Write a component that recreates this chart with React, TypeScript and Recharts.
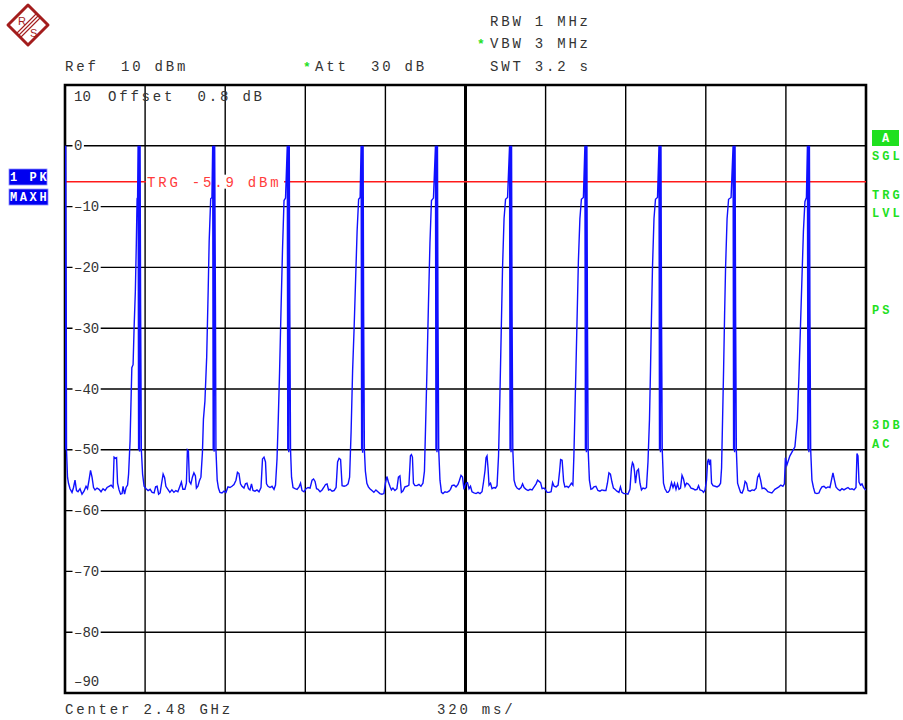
import React from 'react';
import { LineChart, Line, XAxis, YAxis, CartesianGrid, ReferenceLine, ReferenceArea } from 'recharts';

// Sweep time axis (ms) of the trace points, 0 .. 3200 ms (320 ms/div)
const sweepTimeMs = [
  0, 2, 3, 5, 6, 10, 14, 20, 28, 34,
  40, 46, 52, 60, 68, 76, 84, 90, 96, 102,
  108, 114, 120, 128, 136, 144, 152, 160, 168, 176,
  184, 192, 196, 202, 206, 210, 216, 222, 228, 232,
  238, 244, 250, 254, 260, 267, 272, 276, 281, 285,
  288, 290, 292, 294, 296, 298, 300, 302, 305, 310,
  316, 324, 332, 340, 348, 356, 362, 368, 374, 380,
  386, 392, 398, 403, 411, 419, 427, 435, 443, 451,
  459, 465, 471, 479, 485, 489, 493, 497, 503, 509,
  515, 521, 525, 531, 537, 543, 549, 553, 559, 566,
  572, 576, 582, 587, 590, 592, 594, 596, 598, 601,
  603, 608, 613, 619, 627, 635, 643, 651, 659, 667,
  675, 683, 689, 695, 701, 707, 715, 721, 727, 733,
  739, 745, 751, 759, 767, 775, 783, 789, 795, 801,
  805, 811, 819, 827, 835, 841, 847, 852, 857, 863,
  869, 875, 881, 888, 890, 892, 894, 896, 898, 901,
  905, 911, 919, 927, 935, 941, 947, 955, 963, 971,
  979, 987, 993, 999, 1005, 1011, 1019, 1027, 1035, 1041,
  1047, 1053, 1059, 1067, 1075, 1083, 1089, 1095, 1101, 1107,
  1115, 1123, 1131, 1137, 1143, 1149, 1155, 1161, 1167, 1173,
  1179, 1183, 1185, 1187, 1189, 1191, 1193, 1196, 1200, 1206,
  1212, 1218, 1226, 1234, 1242, 1250, 1258, 1266, 1274, 1280,
  1286, 1292, 1298, 1304, 1310, 1318, 1326, 1332, 1338, 1344,
  1350, 1358, 1366, 1374, 1380, 1384, 1388, 1392, 1398, 1406,
  1414, 1422, 1430, 1436, 1440, 1446, 1452, 1458, 1464, 1472,
  1480, 1482, 1484, 1486, 1488, 1490, 1493, 1498, 1504, 1510,
  1518, 1526, 1534, 1540, 1546, 1554, 1562, 1570, 1576, 1582,
  1588, 1594, 1602, 1608, 1614, 1620, 1626, 1634, 1642, 1650,
  1658, 1666, 1672, 1678, 1682, 1686, 1690, 1694, 1700, 1706,
  1714, 1720, 1726, 1732, 1736, 1740, 1744, 1748, 1754, 1760,
  1768, 1776, 1778, 1780, 1782, 1784, 1786, 1789, 1794, 1800,
  1806, 1814, 1822, 1828, 1834, 1842, 1850, 1858, 1866, 1874,
  1882, 1888, 1894, 1900, 1906, 1914, 1920, 1926, 1934, 1942,
  1948, 1954, 1962, 1970, 1976, 1980, 1986, 1992, 1997, 2005,
  2011, 2017, 2023, 2029, 2033, 2037, 2041, 2046, 2051, 2057,
  2063, 2071, 2077, 2079, 2081, 2083, 2085, 2087, 2090, 2095,
  2101, 2107, 2113, 2121, 2129, 2137, 2145, 2153, 2161, 2167,
  2173, 2179, 2185, 2191, 2197, 2205, 2213, 2219, 2225, 2233,
  2241, 2249, 2257, 2263, 2267, 2271, 2275, 2279, 2285, 2291,
  2297, 2303, 2309, 2317, 2323, 2329, 2335, 2339, 2343, 2347,
  2353, 2359, 2367, 2373, 2375, 2377, 2379, 2381, 2383, 2386,
  2391, 2397, 2405, 2409, 2415, 2423, 2429, 2435, 2441, 2447,
  2453, 2459, 2465, 2471, 2477, 2483, 2489, 2495, 2501, 2509,
  2517, 2525, 2531, 2537, 2545, 2551, 2557, 2563, 2567, 2571,
  2575, 2579, 2583, 2589, 2597, 2605, 2613, 2619, 2623, 2627,
  2631, 2635, 2639, 2645, 2651, 2661, 2669, 2671, 2673, 2675,
  2677, 2679, 2682, 2687, 2693, 2699, 2705, 2711, 2717, 2723,
  2729, 2737, 2745, 2753, 2761, 2767, 2773, 2779, 2785, 2793,
  2800, 2808, 2816, 2824, 2830, 2836, 2844, 2852, 2860, 2868,
  2874, 2878, 2884, 2896, 2916, 2926, 2932, 2938, 2944, 2950,
  2956, 2962, 2966, 2968, 2970, 2972, 2974, 2976, 2979, 2984,
  2990, 2996, 3004, 3012, 3018, 3024, 3032, 3040, 3048, 3056,
  3062, 3068, 3074, 3080, 3088, 3096, 3104, 3112, 3120, 3128,
  3136, 3144, 3152, 3160, 3164, 3168, 3172, 3178, 3184, 3190,
  3196, 3200,
];

// Trace level (dBm), MAXH peak trace
const traceLevelDbm = [
  0, -50, 0, -27, -50, -54.5, -55.5, -56.4, -57, -56.2,
  -55, -56.7, -56.9, -56.4, -57.3, -56.8, -56, -56.4, -55, -53.4,
  -54.5, -56.2, -56.6, -56.3, -56.5, -56.9, -56.4, -56.7, -56.2, -56,
  -55.8, -56.2, -51.2, -51.4, -51.3, -55.5, -56.6, -57.3, -57.2, -56,
  -57.3, -56.2, -55.8, -54, -48.5, -36.5, -36, -30, -24, -16,
  -8.7, -8.5, 0, -50, 0, -50.3, 0, -26, -50, -54,
  -56, -56.4, -56.7, -56.5, -57, -57.1, -56.1, -56, -57.3, -57.1,
  -55.5, -54, -54.6, -56, -56.5, -57, -56.6, -57, -56.7, -56.9,
  -56, -55.3, -56.5, -56.5, -55.5, -50, -50.2, -55.2, -55.6, -54.5,
  -53.8, -54.3, -56.3, -56, -55.1, -54.5, -50.5, -45, -42, -34.8,
  -23.8, -15.6, -8.7, -8.5, 0, -50, 0, -50.3, 0, -26,
  -50, -55, -56.3, -57, -57.1, -56.8, -57, -56.1, -56.2, -56,
  -55.7, -55, -53.7, -53.9, -55.6, -56, -56.3, -55.6, -55.5, -56.4,
  -56.6, -55.6, -56.7, -56.8, -56.6, -56.9, -56.2, -51.5, -51.2, -52,
  -55.6, -56, -56.2, -56, -56.5, -55.8, -51.5, -45, -37.5, -27,
  -17, -9, -8.6, 0, -50, 0, -50.4, 0, -26, -50,
  -54.5, -56.2, -56.4, -56.5, -56.1, -55.5, -56.7, -56.9, -56.4, -56.2,
  -56.3, -55, -54.8, -55.2, -56.4, -56.5, -56.9, -56.6, -56.1, -55.7,
  -55.6, -56.6, -56.5, -56.8, -56.7, -56.2, -52, -51.4, -51.6, -55.9,
  -56, -55.9, -55.6, -54.5, -47, -37, -30, -22, -14, -8.8,
  -8.5, 0, -50, 0, -50.5, 0, -27, -50, -53.5, -55.5,
  -56.1, -56.4, -56.7, -57, -56.6, -56.9, -57.2, -57.3, -57.2, -55.5,
  -54.4, -55.3, -56, -56.6, -56.3, -56.7, -56.4, -54.5, -54.3, -57,
  -56.8, -56.1, -56, -55.8, -51, -50.8, -51.2, -55.5, -55.9, -55.9,
  -55.7, -56, -55.5, -53.5, -47, -37, -26, -16, -9, -8.6,
  0, -50, 0, -50.4, 0, -27, -50, -55, -57, -57.2,
  -56.9, -57, -56.8, -56.5, -55.9, -55.8, -56.1, -55.7, -55, -54.2,
  -54.5, -56.5, -55.5, -55.4, -56.4, -56, -56.9, -57.1, -57.2, -57,
  -57.2, -56.9, -55.3, -53.4, -51.3, -51, -53, -55.8, -55.5, -56.4,
  -56.2, -56.3, -55.9, -51, -44, -36, -28, -20, -12, -8.8,
  -8.5, 0, -50, 0, -50.4, 0, -27, -50, -55, -55.9,
  -56.3, -56.5, -56.2, -55.6, -56.2, -56.5, -56.7, -56.5, -56.6, -56.1,
  -55.6, -55, -55.2, -55.4, -56.4, -56.3, -56.6, -57, -57, -56.9,
  -55.4, -56, -56.1, -55.8, -53.5, -51.6, -51.7, -55.2, -56.1, -56,
  -56.2, -55.9, -55.5, -55.8, -51, -44, -37, -28, -19, -12,
  -8.8, -8.5, 0, -50, 0, -50.4, 0, -27, -50, -55,
  -56.5, -56.4, -56.1, -56, -56.7, -56.8, -56.6, -56.7, -56.7, -55.5,
  -53.8, -54, -55.3, -56.3, -56.5, -56.8, -57, -56.1, -57, -57.2,
  -57.2, -57.3, -56.5, -53, -52.1, -52.4, -53.5, -55.5, -53.5, -53.2,
  -55.5, -56.6, -56.3, -56.4, -56.2, -52, -45, -37, -28, -20,
  -12, -8.8, -8.5, 0, -50, 0, -50.4, 0, -27, -50,
  -55.5, -56.4, -57, -57, -56.7, -55.4, -56.2, -55.5, -56.5, -55.6,
  -56.5, -56.3, -54.2, -54.8, -56, -55.5, -55.6, -55.9, -56.3, -56.4,
  -56.6, -56.5, -55.9, -56.6, -56.7, -57, -56.6, -55, -52, -51.5,
  -52.5, -51.6, -55.5, -55.9, -56, -56.1, -55.9, -55.5, -53, -45,
  -37, -28, -20, -12, -8.8, -8.5, 0, -50, 0, -50.4,
  0, -27, -50, -55.5, -56.3, -57, -57.1, -56.5, -55.2, -55.5,
  -56.7, -56.8, -56.6, -56.7, -56.3, -54.5, -54, -55, -56.4, -56.3,
  -56.5, -56.9, -57, -57.1, -56.8, -56.5, -56.3, -56.1, -55.8, -56,
  -55.6, -51.3, -52.5, -51, -49.5, -45, -38, -30, -22, -14,
  -9.2, -8.5, 0, -50, 0, -50.4, 0, -27, -50, -55,
  -56.2, -57.1, -57.2, -57.1, -56.5, -56.1, -56, -56.3, -56.1, -56.2,
  -55, -53.8, -55, -56.1, -56.5, -56.7, -56.4, -56.6, -56.4, -56.2,
  -56.5, -56.4, -56.6, -56.2, -50.6, -51, -55.3, -55.8, -55.6, -56.2,
  -56.5, -56.6,
];

const timeTicksMs = [0, 320, 640, 960, 1280, 1600, 1920, 2240, 2560, 2880, 3200];
const levelTicksDbm = [10, 0, -10, -20, -30, -40, -50, -60, -70, -80, -90];
const refLevelDbm = 10;
const bottomLevelDbm = -90;
const sweepTotalMs = 3200;
const centerTimeMs = 1600;
const triggerLevelDbm = -5.9;

const headerLines = { rbw: 'RBW 1 MHz', vbw: 'VBW 3 MHz', swt: 'SWT 3.2 s', ref: 'Ref  10 dBm', att: 'Att  30 dB', offset: 'Offset  0.8 dB' };
const footerLabels = { center: 'Center 2.48 GHz', span: '320 ms/' };
const rightLabels = [
  { text: 'SGL', y: 160 },
  { text: 'TRG', y: 199 },
  { text: 'LVL', y: 217 },
  { text: 'PS', y: 314 },
  { text: '3DB', y: 429 },
  { text: 'AC', y: 448 },
];

const chartData = sweepTimeMs.map((t, i) => ({ t, level: traceLevelDbm[i] }));

const W = 903;
const H = 720;
const MARGIN = { top: 85, right: 37, bottom: 27, left: 65 };
const MONO = '"Liberation Mono", "DejaVu Sans Mono", monospace';
const TEXT = '#333';
const GREEN = '#1fe01f';
const BLUE = '#1010ff';

const fmt = (v: number) => (v < 0 ? '\u2013' + Math.abs(v) : String(v));

function LevelTick(props: any) {
  const { y, payload } = props;
  const v = payload.value;
  const x = MARGIN.left + 9;
  const st = { fontFamily: MONO, fontSize: 14, fill: TEXT } as any;
  if (v === refLevelDbm) {
    return <text x={x} y={y + 16} {...st}>{String(v)}</text>;
  }
  if (v === bottomLevelDbm) {
    return <text x={x} y={y - 7} {...st}>{fmt(v)}</text>;
  }
  const label = fmt(v);
  const w = label.length * 8.4 + 3;
  return (
    <g>
      <rect x={x - 1.5} y={y - 6} width={w} height={12} fill="#fff" />
      <text x={x} y={y + 4.5} {...st}>{label}</text>
    </g>
  );
}

function EmptyTick() {
  return <g />;
}

function TriggerLabel(props: any) {
  const vb = props.viewBox || {};
  const x = (vb.x ?? MARGIN.left) + 82;
  const y = vb.y ?? 0;
  const label = `TRG ${triggerLevelDbm} dBm`;
  return (
    <g>
      <rect x={x - 1} y={y - 7} width={138} height={14} fill="#fff" />
      <text x={x} y={y + 5} fontFamily={MONO} fontSize={14} letterSpacing={2.8} fill="#ff3b3b">{label}</text>
    </g>
  );
}

function Overlay() {
  const hdr = { fontFamily: MONO, fontSize: 14, letterSpacing: 2.8, fill: TEXT, style: { whiteSpace: 'pre' } } as any;
  const side = { fontFamily: MONO, fontSize: 12, fontWeight: 700, letterSpacing: 3, fill: GREEN } as any;
  const badge = { fontFamily: MONO, fontSize: 12, fontWeight: 700, letterSpacing: 2.6, fill: '#fff', style: { whiteSpace: 'pre' } } as any;
  return (
    <svg width={W} height={H} style={{ position: 'absolute', left: 0, top: 0, pointerEvents: 'none' }}>
      {/* logo */}
      <g>
        <polygon points="28,5 48,25 28,45 8,25" fill="#fff" stroke="#a31d1d" strokeWidth={3} strokeLinejoin="round" />
        <line x1={17} y1={33} x2={36} y2={14} stroke="#a31d1d" strokeWidth={1.1} />
        <line x1={19} y1={35} x2={38} y2={16} stroke="#a31d1d" strokeWidth={1.1} />
        <line x1={21} y1={37} x2={40} y2={18} stroke="#a31d1d" strokeWidth={1.1} />
        <text x={18} y={25} fontFamily="Liberation Sans, Arial, sans-serif" fontSize={11} fill="#a31d1d">R</text>
        <text x={30} y={37} fontFamily="Liberation Sans, Arial, sans-serif" fontSize={11} fill="#a31d1d">S</text>
      </g>
      <text x={490} y={26} {...hdr}>{headerLines.rbw}</text>
      <text x={477} y={48} fontFamily={MONO} fontSize={13} fontWeight={700} fill={GREEN}>*</text>
      <text x={490} y={48} {...hdr}>{headerLines.vbw}</text>
      <text x={490} y={71} {...hdr}>{headerLines.swt}</text>
      <text x={65} y={71} {...hdr}>{headerLines.ref}</text>
      <text x={303} y={71} fontFamily={MONO} fontSize={13} fontWeight={700} fill={GREEN}>*</text>
      <text x={315} y={71} {...hdr}>{headerLines.att}</text>
      <text x={108} y={101} {...hdr}>{headerLines.offset}</text>
      <text x={65} y={714} {...hdr}>{footerLabels.center}</text>
      <text x={437} y={714} {...hdr}>{footerLabels.span}</text>
      {/* trace badges */}
      <rect x={9} y={169} width={38} height={16} fill="#0000f0" stroke="#8a8aff" strokeWidth={0.8} />
      <text x={10} y={181} {...badge}>1 PK</text>
      <rect x={9} y={189} width={39} height={16} fill="#0000f0" stroke="#8a8aff" strokeWidth={0.8} />
      <text x={10} y={201} {...badge}>MAXH</text>
      {/* right status */}
      <rect x={872} y={130} width={27} height={16} fill={GREEN} />
      <text x={885.5} y={142} textAnchor="middle" fontFamily={MONO} fontSize={12} fontWeight={700} fill="#fff">A</text>
      {rightLabels.map((r) => (
        <text key={r.text + r.y} x={872} y={r.y} {...side}>{r.text}</text>
      ))}
    </svg>
  );
}

export default function App() {
  return (
    <div style={{ position: 'absolute', left: 0, top: 0, width: W, height: H, background: '#fff' }}>
      <LineChart width={W} height={H} data={chartData} margin={MARGIN}>
        <XAxis
          type="number"
          dataKey="t"
          domain={[0, sweepTotalMs]}
          ticks={timeTicksMs}
          interval={0}
          mirror
          height={30}
          tick={<EmptyTick />}
          axisLine={false}
          tickLine={false}
          allowDataOverflow
        />
        <YAxis
          type="number"
          domain={[bottomLevelDbm, refLevelDbm]}
          ticks={levelTicksDbm}
          interval={0}
          mirror
          width={60}
          axisLine={false}
          tickLine={false}
          tick={<LevelTick />}
          allowDataOverflow
        />
        <CartesianGrid stroke="#000" strokeWidth={1.4} />
        <ReferenceLine x={centerTimeMs} stroke="#000" strokeWidth={3} />
        <ReferenceLine y={triggerLevelDbm} stroke="#ff1a1a" strokeWidth={1.5} label={<TriggerLabel />} />
        <Line
          type="linear"
          dataKey="level"
          stroke={BLUE}
          strokeWidth={1.4}
          dot={false}
          isAnimationActive={false}
        />
        <ReferenceArea x1={0} x2={sweepTotalMs} y1={bottomLevelDbm} y2={refLevelDbm} fill="none" fillOpacity={0} stroke="#000" strokeWidth={2.6} />
      </LineChart>
      <Overlay />
    </div>
  );
}
